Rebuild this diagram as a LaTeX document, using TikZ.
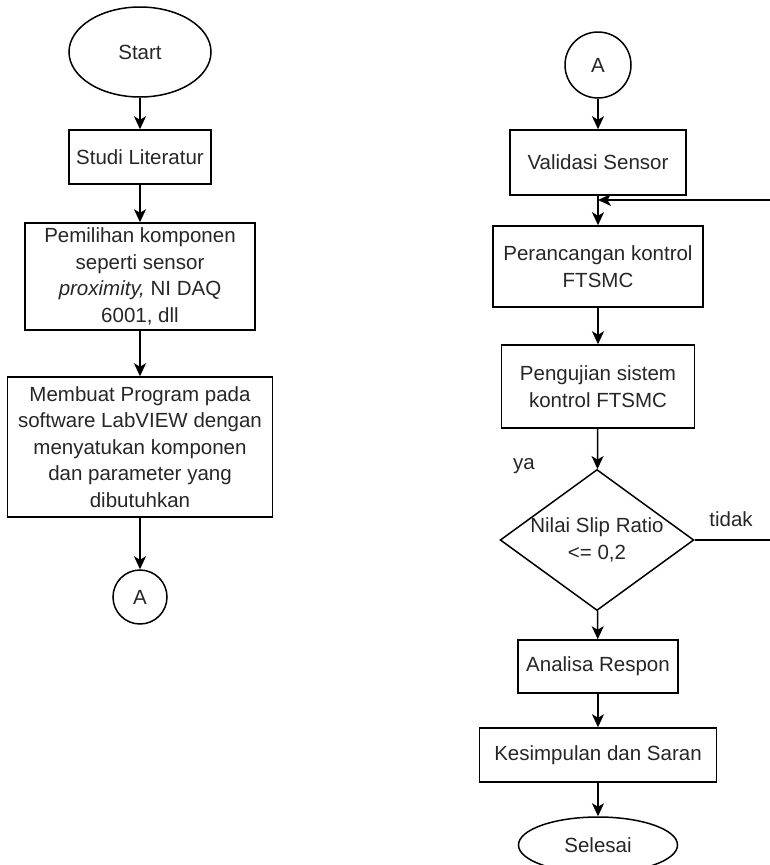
\documentclass[tikz,border=0pt]{standalone}
\usepackage{fontspec}
\setmainfont{Liberation Sans}
\usetikzlibrary{shapes.geometric,arrows.meta}
\begin{document}
\begin{tikzpicture}[x=1pt,y=-1pt,
  every node/.style={font=\fontsize{20.5}{26.5}\selectfont, inner sep=0pt, align=center, text=black!85},
  box/.style={draw, line width=1.5pt, rectangle},
  oval/.style={draw, line width=1.5pt, ellipse},
  conn/.style={draw, line width=1.5pt, circle},
  dec/.style={draw, line width=1.5pt, diamond},
  arr/.style={line width=1.5pt, -{Stealth[length=13pt,width=12pt,inset=3.5pt]}},
]
\useasboundingbox (0,0) rectangle (769,865);
% left column
\node[oval, minimum width=142pt, minimum height=90pt] (start) at (140,52) {Start};
\node[box, minimum width=142pt, minimum height=54pt] (studi) at (140,157) {Studi Literatur};
\node[box, minimum width=230pt, minimum height=107pt] (pilih) at (140,276.5) {Pemilihan komponen\\seperti sensor\\\textit{proximity,} NI DAQ\\6001, dll};
\node[box, minimum width=265pt, minimum height=140pt] (buat) at (140,447) {Membuat Program pada\\software LabVIEW dengan\\menyatukan komponen\\dan parameter yang\\dibutuhkan};
\node[conn, minimum size=54pt] (a1) at (140,597) {A};
\draw[arr] (start) -- (studi);
\draw[arr] (studi) -- (pilih);
\draw[arr] (pilih) -- (buat);
\draw[arr] (buat) -- (a1);
% right column
\node[conn, minimum size=66pt] (a2) at (598,65) {A};
\node[box, minimum width=176pt, minimum height=65pt] (valid) at (598,162.5) {Validasi Sensor};
\node[box, minimum width=210pt, minimum height=81pt] (peran) at (598,266.5) {Perancangan kontrol\\FTSMC};
\node[box, minimum width=193pt, minimum height=83pt] (uji) at (598,386.5) {Pengujian sistem\\kontrol FTSMC};
\node[dec, minimum width=191pt, minimum height=139pt, aspect=1.374] (nilai) at (597,540) {Nilai Slip Ratio\\<= 0,2};
\node[box, minimum width=160pt, minimum height=53pt] (anal) at (598,666.5) {Analisa Respon};
\node[box, minimum width=237pt, minimum height=54pt] (kes) at (598,755) {Kesimpulan dan Saran};
\node[oval, minimum width=159pt, minimum height=56pt] (sel) at (598,845) {Selesai};
\node (ya) at (524,466) {ya};
\node (tidak) at (731,519) {tidak};
\coordinate (fbA) at (772,540);
\coordinate (fbB) at (772,200);
\coordinate (fbC) at (598,200);
\draw[arr] (a2) -- (valid);
\draw[arr] (valid) -- (peran);
\draw[arr] (peran) -- (uji);
\draw[arr] (uji) -- (nilai);
\draw[arr] (nilai) -- (anal);
\draw[arr] (anal) -- (kes);
\draw[arr] (kes) -- (sel);
\draw[arr] (nilai.east) -- (fbA) -- (fbB) -- (fbC);
\end{tikzpicture}
\end{document}
